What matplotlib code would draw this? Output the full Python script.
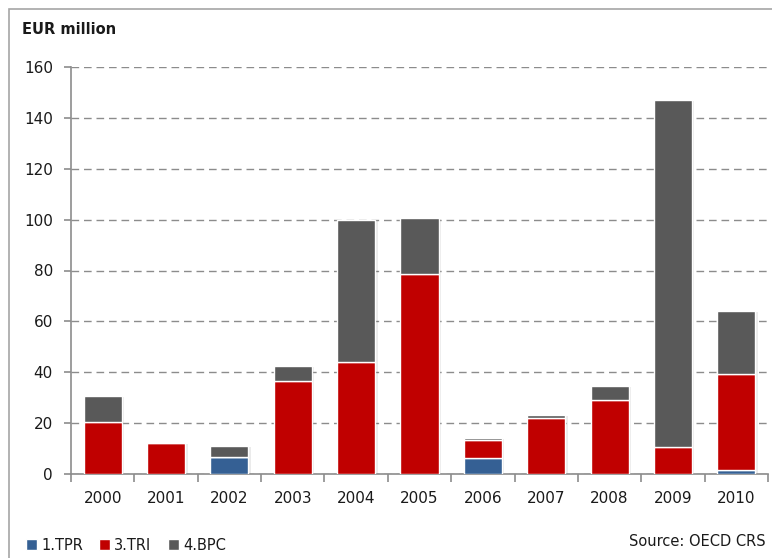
import matplotlib
matplotlib.use("Agg")
import matplotlib.pyplot as plt
from matplotlib.patches import Rectangle
import numpy as np

years = ["2000", "2001", "2002", "2003", "2004", "2005",
         "2006", "2007", "2008", "2009", "2010"]
tpr = [0.0, 0.0, 6.7, 0.0, 0.0, 0.0, 6.2, 0.0, 0.0, 0.0, 1.6]
tri = [20.5, 12.3, 0.0, 36.6, 44.0, 78.6, 7.0, 22.1, 29.1, 10.7, 37.8]
bpc = [10.2, 0.0, 4.4, 5.7, 56.0, 22.0, 1.1, 1.1, 5.6, 136.2, 24.7]
series_names = ["1.TPR", "3.TRI", "4.BPC"]
series_colors = ["#356094", "#C00000", "#595959"]
y_ticks = [0, 20, 40, 60, 80, 100, 120, 140, 160]

plt.rcParams["font.family"] = ["DejaVu Sans"]

fig = plt.figure(figsize=(7.72, 5.58), dpi=100)
fig.patch.set_facecolor("white")

# outer frame of the chart area
fig.patches.append(Rectangle((9 / 772, -0.05), 1.2, (558 - 9) / 558 + 0.05,
                             transform=fig.transFigure, fill=False,
                             edgecolor="#a6a6a6", linewidth=1.2))

ax = fig.add_axes([71 / 772, (558 - 474) / 558, (768 - 71) / 772, (474 - 67) / 558])

x = np.arange(len(years))
w = 0.6
bottom = np.zeros(len(years))
handles = []
for vals, name, col in zip([tpr, tri, bpc], series_names, series_colors):
    vals = np.array(vals)
    # soft drop shadow
    ax.bar(x + 0.04, vals, w, bottom=bottom - 0.4, color="#000000", alpha=0.08,
           linewidth=0, zorder=2)
    b = ax.bar(x, vals, w, bottom=bottom, color=col, edgecolor="white",
               linewidth=1.0, zorder=3, label=name)
    handles.append(b)
    bottom = bottom + vals

ax.set_xlim(-0.5, len(years) - 0.5)
ax.set_ylim(0, 160)
ax.set_yticks(y_ticks)
ax.set_yticklabels([str(v) for v in y_ticks], fontsize=11, color="#1a1a1a")
ax.yaxis.grid(True, linestyle=(0, (5.5, 3.5)), color="#8c8c8c", linewidth=1.0, zorder=0)
ax.set_axisbelow(True)

ax.set_xticks(x)
ax.set_xticklabels(years, fontsize=11, color="#1a1a1a")
ax.set_xticks(np.arange(len(years) + 1) - 0.5, minor=True)
ax.tick_params(axis="x", which="major", length=0, pad=12)
ax.tick_params(axis="x", which="minor", length=6, color="#8c8c8c", width=1.2)
ax.tick_params(axis="y", length=5, color="#8c8c8c", width=1.2, pad=8)

for side in ["top", "right"]:
    ax.spines[side].set_visible(False)
for side in ["left", "bottom"]:
    ax.spines[side].set_color("#8c8c8c")
    ax.spines[side].set_linewidth(1.2)

fig.text(22 / 772, 1 - 29 / 558, "EUR million", fontsize=10.5, fontweight="bold",
         color="#1a1a1a", va="center", ha="left")

leg = fig.legend(handles=handles, labels=series_names, loc="center left",
                 bbox_to_anchor=(20 / 772, 1 - 545 / 558), ncol=3, frameon=False,
                 fontsize=10.5, handlelength=0.75, handleheight=0.75,
                 handletextpad=0.3, columnspacing=1.1, borderaxespad=0)
for t in leg.get_texts():
    t.set_color("#1a1a1a")

fig.text(766 / 772, 1 - 541 / 558, "Source: OECD CRS", fontsize=10.5,
         color="#1a1a1a", ha="right", va="center")

fig.savefig("out.png", dpi=100, facecolor="white")
